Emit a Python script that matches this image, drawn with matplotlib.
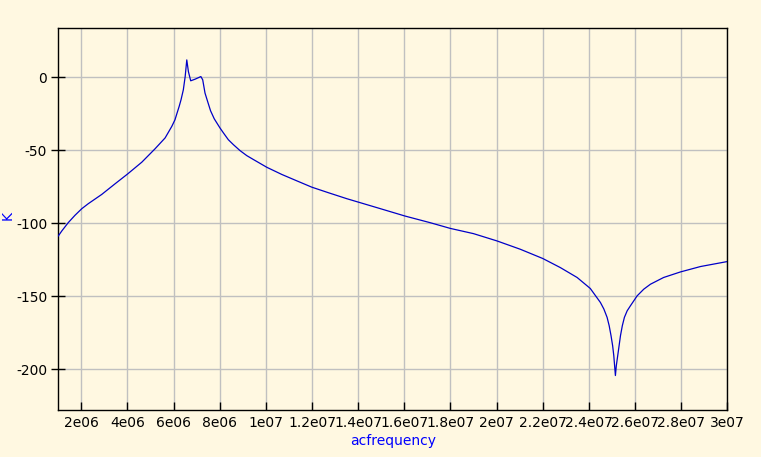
import matplotlib
matplotlib.use("Agg")
import matplotlib.pyplot as plt

# Frequency (MHz) and K values
freq_mhz = [1.0, 1.15, 1.43, 1.72, 2.02, 2.30, 2.88, 3.46, 4.01, 4.62, 5.19, 5.63, 5.77, 5.92,
            6.06, 6.14, 6.24, 6.32, 6.42, 6.50, 6.57, 6.64, 6.74, 6.93, 7.18, 7.26, 7.36,
            7.49, 7.60, 7.76, 8.01, 8.16, 8.37, 8.59, 8.88, 9.17, 9.46, 10.04, 10.69, 11.27,
            11.99, 12.71, 13.51, 14.96, 16.04, 17.12, 17.99, 19.00, 20.02, 21.03, 22.0,
            22.76, 23.49, 24.06, 24.50, 24.65, 24.79, 24.88, 24.96, 25.03, 25.08, 25.15,
            25.19, 25.25, 25.31, 25.37, 25.45, 25.54, 25.66, 25.80, 26.09, 26.38, 26.67,
            27.24, 27.97, 28.84, 30.0]
k_values = [-108.7, -105.3, -99.6, -94.6, -90.0, -86.6, -80.3, -73.0, -66.2, -58.2, -49.1, -41.6, -37.8, -33.7,
            -29.1, -25.0, -20.0, -15.5, -8.7, 0.4, 11.8, 3.8, -2.5, -1.4, 0.4, -1.8, -10.9,
            -17.5, -23.0, -28.5, -34.8, -38.2, -42.8, -46.2, -50.3, -53.7, -56.4, -61.7, -66.6, -70.5,
            -75.3, -79.1, -83.2, -90.0, -95.1, -99.6, -103.5, -107.1, -112.1, -117.8, -124.1,
            -130.3, -137.1, -144.6, -154.2, -158.7, -164.4, -170.1, -176.9, -183.8, -190.6, -204.2,
            -197.4, -190.6, -183.8, -176.9, -170.1, -164.4, -159.9, -156.5, -149.7, -145.1, -141.7,
            -137.1, -133.3, -129.6, -126.2]

xtick_vals = [2e6, 4e6, 6e6, 8e6, 1e7, 1.2e7, 1.4e7, 1.6e7, 1.8e7, 2e7, 2.2e7, 2.4e7, 2.6e7, 2.8e7, 3e7]
xtick_labels = ["2e06", "4e06", "6e06", "8e06", "1e07", "1.2e07", "1.4e07", "1.6e07", "1.8e07",
                "2e07", "2.2e07", "2.4e07", "2.6e07", "2.8e07", "3e07"]
ytick_vals = [0, -50, -100, -150, -200]
ytick_labels = ["0", "-50", "-100", "-150", "-200"]

plt.rcParams['font.family'] = ['DejaVu Sans']
bg = "#FFF8E1"

fig = plt.figure(figsize=(7.61, 4.57), dpi=100, facecolor=bg)
ax = fig.add_axes([0.0766, 0.1028, 0.9557 - 0.0766, 0.938 - 0.1028])
ax.set_facecolor(bg)

freq = [f * 1e6 for f in freq_mhz]
ax.plot(freq, k_values, color="#0000C8", linewidth=0.9, zorder=3)

ax.set_xlim(1e6, 3e7)
ax.set_ylim(-227.8, 33.4)
ax.set_xticks(xtick_vals)
ax.set_xticklabels(xtick_labels)
ax.set_yticks(ytick_vals)
ax.set_yticklabels(ytick_labels)
ax.grid(True, color="#C0C0C0", linewidth=1.0, zorder=0)
ax.set_axisbelow(True)

ax.tick_params(axis='x', direction='in', length=5.5, width=1.0, labelsize=10, pad=4, colors='black')
ax.tick_params(axis='y', direction='inout', length=10, width=1.0, labelsize=10, pad=3, colors='black')
for s in ax.spines.values():
    s.set_color('black')
    s.set_linewidth(1.0)

ax.set_xlabel("acfrequency", color="#0000FF", fontsize=10, labelpad=3)
ax.set_ylabel("K", color="#0000FF", fontsize=10)
ax.yaxis.set_label_coords(-0.066, 0.51)

fig.savefig("out.png", dpi=100, facecolor=bg)
